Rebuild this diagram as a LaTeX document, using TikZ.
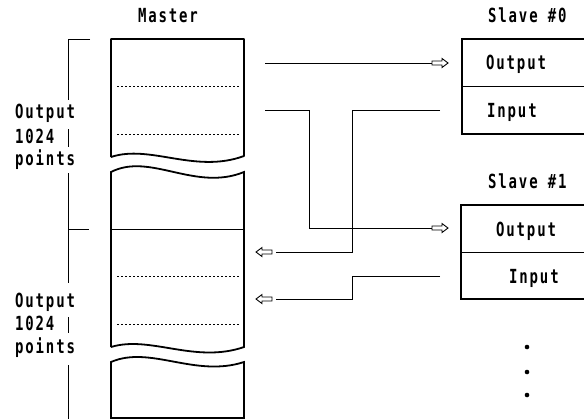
\documentclass[tikz,border=0pt]{standalone}
\usepackage{fontspec}
\newfontfamily\lblfont[FakeStretch=0.72,LetterSpace=9.5]{DejaVu Sans Mono}
\tikzset{
  lbl/.style={inner sep=0pt, anchor=base west, font=\lblfont\bfseries\fontsize{19.5}{22}\selectfont},
  thickbox/.style={line width=1.8bp},
  slavebox/.style={line width=2.4bp},
  thinline/.style={line width=0.9bp},
  dotline/.style={line width=0.8bp, dash pattern=on 2bp off 2bp},
  conn/.style={line width=0.9bp},
  harrow/.pic={\draw[line width=0.9bp, fill=white] (0,-2) -- (10,-2) -- (10,-4.5) -- (16,0) -- (10,4.5) -- (10,2) -- (0,2) -- cycle;}
}
\begin{document}
\begin{tikzpicture}[x=1bp,y=-1bp]
\useasboundingbox (0,0) rectangle (584,419);
\clip (0,0) rectangle (584,419);

% ---- Master memory blocks
\draw[thickbox, line join=round] (111,157) -- (111,39) -- (244,39) -- (244,156)
  .. controls (195,174) and (150,144) .. (111,157);
\draw[thickbox] (111,347) -- (111,172) .. controls (150,152) and (195,192) .. (244,172) -- (244,347)
  .. controls (195,364) and (150,335) .. (111,347);
\draw[thickbox] (111,418) -- (111,362) .. controls (150,345) and (195,378) .. (244,362) -- (244,418) -- cycle;
\draw[thinline] (111,229) -- (244,229);
\draw[dotline] (117,86) -- (240,86);
\draw[dotline] (117,134) -- (240,134);
\draw[dotline] (117,276) -- (240,276);
\draw[dotline] (117,324) -- (240,324);

\node[lbl, anchor=base] (master) at (168,22) {Master};

% ---- Left brackets
\draw[thinline] (90,39) -- (68,39) -- (68,100);
\draw[thinline] (68,129) -- (68,147);
\draw[thinline] (68,173) -- (68,283);
\draw[thinline] (68,229) -- (89,229);
\draw[thinline] (68,317) -- (68,333);
\draw[thinline] (68,365) -- (68,419);

\node[lbl] (o1) at (15,118) {Output};
\node[lbl] (n1) at (15,143) {1024};
\node[lbl] (p1) at (15,165) {points};
\node[lbl] (o2) at (15,307) {Output};
\node[lbl] (n2) at (15,330) {1024};
\node[lbl] (p2) at (15,353) {points};

% ---- Slave boxes
\draw[slavebox] (590,39) -- (462,39) -- (462,134) -- (590,134);
\draw[thinline] (462,86) -- (590,86);
\draw[slavebox] (590,205) -- (461,205) -- (461,299) -- (590,299);
\draw[thinline] (461,252) -- (590,252);

\node[lbl] (s0) at (488,22) {Slave \#0};
\node[lbl] (s0o) at (486,69) {Output};
\node[lbl] (s0i) at (487,117) {Input};
\node[lbl] (s1) at (488,188) {Slave \#1};
\node[lbl] (s1o) at (496,236) {Output};
\node[lbl] (s1i) at (509,283) {Input};

% ---- Connector end points
\coordinate (mout0) at (265,63);
\coordinate (mout1) at (265,110);
\coordinate (a0) at (432,63);
\coordinate (a1) at (432,228);
\coordinate (sin0) at (440,110);
\coordinate (sin1) at (440,276);
\coordinate (b0) at (276,252);
\coordinate (b1) at (276,299);
\coordinate (t0) at (272,252);
\coordinate (t1) at (272,299);

\draw[conn] (mout0) -- (a0);
\draw[conn] (mout1) -- (309,110) -- (309,228) -- (a1);
\draw[conn] (sin0) -- (352,110) -- (352,252) -- (b0);
\draw[conn] (sin1) -- (352,276) -- (352,299) -- (b1);

\pic at (a0) {harrow};
\pic at (a1) {harrow};
\pic[rotate=180] at (t0) {harrow};
\pic[rotate=180] at (t1) {harrow};

% ---- continuation dots
\fill (527,347) circle (2.3);
\fill (527,372) circle (2.3);
\fill (527,395) circle (2.3);
\end{tikzpicture}
\end{document}
